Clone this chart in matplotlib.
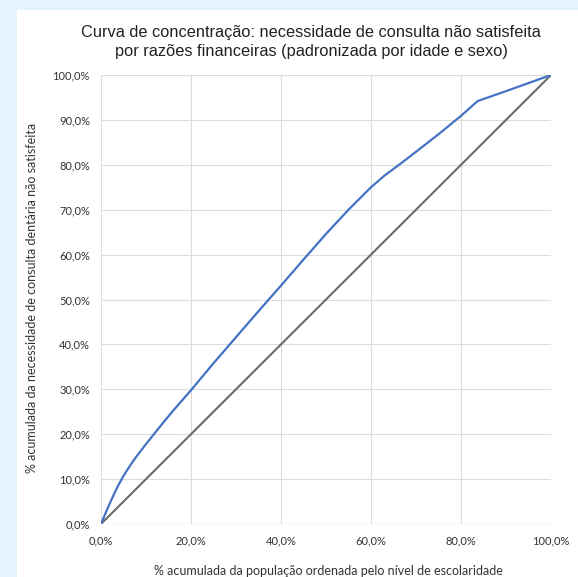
# Curva de concentração (necessidade de consulta não satisfeita)
import matplotlib.pyplot as plt
from matplotlib.patches import Rectangle
from matplotlib.ticker import FuncFormatter

# valores (em %)
pop_acum = [0, 1, 2, 3, 4, 5, 6, 7, 8, 9, 10, 12, 14, 16, 18, 20, 25, 30, 35, 40,
            45, 50, 55, 60, 63, 66.5, 70, 75, 80, 83.7, 90, 100]
nec_acum = [0, 2.4, 4.7, 6.9, 8.9, 10.7, 12.3, 13.8, 15.2, 16.5, 17.8, 20.3, 22.8,
            25.2, 27.5, 29.8, 35.8, 41.6, 47.4, 53.1, 58.9, 64.6, 70.0, 75.0, 77.6,
            80.2, 82.9, 86.8, 90.9, 94.2, 96.4, 100]
igualdade = [0, 100]

titulo = ('Curva de concentração: necessidade de consulta não satisfeita\n'
          'por razões financeiras (padronizada por idade e sexo)')
rotulo_x = '% acumulada da população ordenada pelo nível de escolaridade'
rotulo_y = '% acumulada da necessidade de consulta dentária não satisfeita'


def fmt_pct(v, pos):
    return f'{v:.1f}%'.replace('.', ',')


fig = plt.figure(figsize=(5.78, 5.77), dpi=100, facecolor='#e4f4fc')
fig.patches.append(Rectangle((17 / 578, 0), 1, 1 - 10 / 577, transform=fig.transFigure,
                             facecolor='white', edgecolor='none', zorder=-5))

ax = fig.add_axes([101 / 578, 53 / 577, 450 / 578, 449 / 577])
ax.set_facecolor('white')
ax.plot(igualdade, igualdade, color='#6b6b6b', lw=1.5, zorder=3)
ax.plot(pop_acum, nec_acum, color='#4472c4', lw=1.6, zorder=4)

ax.set_xlim(0, 100)
ax.set_ylim(0, 100)
ax.set_xticks(range(0, 101, 20))
ax.set_yticks(range(0, 101, 10))
ax.xaxis.set_major_formatter(FuncFormatter(fmt_pct))
ax.yaxis.set_major_formatter(FuncFormatter(fmt_pct))
ax.tick_params(length=0, labelsize=8, colors='#333333', pad=8)
for lab in ax.get_xticklabels() + ax.get_yticklabels():
    lab.set_fontfamily('Lato')
ax.grid(True, color='#dcdcdc', lw=0.8)
ax.set_axisbelow(True)
for s in ax.spines.values():
    s.set_visible(False)
ax.axhline(0, color='#d0d0d0', lw=0.9, zorder=1)

fig.text(311 / 578, 1 - 42 / 577, titulo, ha='center', va='center', fontsize=11.8,
         family='Liberation Sans', color='#222222', linespacing=1.4)
fig.text(328 / 578, 1 - 571 / 577, rotulo_x, ha='center', va='center', fontsize=9,
         family='Lato', color='#333333')
fig.text(32 / 578, 1 - 298 / 577, rotulo_y, ha='center', va='center', fontsize=9,
         family='Lato', color='#333333', rotation=90)

fig.savefig('out.png', dpi=100, facecolor=fig.get_facecolor())
